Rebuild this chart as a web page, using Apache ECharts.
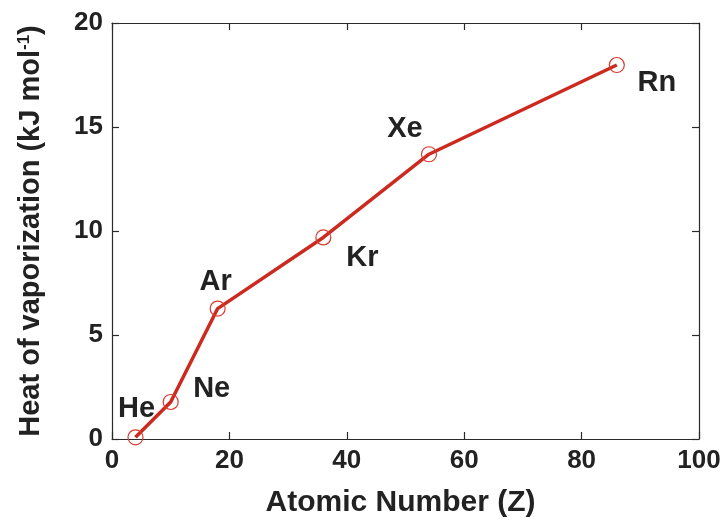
<!DOCTYPE html>
<html><head><meta charset="utf-8">
<script src="https://cdn.jsdelivr.net/npm/echarts@6/dist/echarts.min.js"></script>
<style>html,body{margin:0;padding:0;background:#fff}#c{width:725px;height:520px}</style>
</head><body><div id="c"></div>
<script>
const elements = ['He', 'Ne', 'Ar', 'Kr', 'Xe', 'Rn'];
const atomicNumber = [4, 10, 18, 36, 54, 86];
const heatVap = [0.08, 1.78, 6.27, 9.69, 13.69, 17.98];
const xTicks = [0, 20, 40, 60, 80, 100];
const yTicks = [0, 5, 10, 15, 20];
// label placement (pixel offsets from each point)
const labelOffsets = [[1, -28], [41, -13], [-2, -27], [39, 21], [-24, -25], [40, 18]];

const chart = echarts.init(document.getElementById('c'));
const axisCol = '#2a2a2a';
const font = 'Liberation Sans, Arial, Helvetica, sans-serif';
function ax(extra) {
  return Object.assign({
    axisLine: { show: true, onZero: false, lineStyle: { color: axisCol, width: 1.2 } },
    axisTick: { show: true, inside: true, length: 7, lineStyle: { color: axisCol, width: 1.2 } },
    splitLine: { show: false }
  }, extra);
}
chart.setOption({
  animation: false,
  backgroundColor: '#fff',
  grid: { left: 112, right: 26, top: 23, bottom: 81, outerBoundsMode: 'none' },
  xAxis: [
    ax({
      type: 'value', min: xTicks[0], max: xTicks[xTicks.length - 1], interval: 20,
      name: 'Atomic Number (Z)', nameLocation: 'middle', nameGap: 49,
      nameTextStyle: { fontFamily: font, fontWeight: 'bold', fontSize: 30, color: '#222', padding: [0, 10, 0, 0] },
      axisLabel: { fontFamily: font, fontWeight: 'bold', fontSize: 26, color: '#222', margin: 9 }
    }),
    ax({
      type: 'value', position: 'top', min: 0, max: 100, interval: 20,
      axisLabel: { show: false }
    })
  ],
  yAxis: [
    ax({
      type: 'value', min: yTicks[0], max: yTicks[yTicks.length - 1], interval: 5,
      name: '{a|Heat of vaporization (kJ mol}{s|-1}{a|)}', nameLocation: 'middle', nameGap: 67,
      nameTextStyle: {
        rich: {
          a: { fontFamily: font, fontWeight: 'bold', fontSize: 29, color: '#222' },
          s: { fontFamily: font, fontWeight: 'bold', fontSize: 17, color: '#222', verticalAlign: 'top', padding: [0, 0, 12, 0] }
        }
      },
      axisLabel: { fontFamily: font, fontWeight: 'bold', fontSize: 26, color: '#222', margin: 9 }
    }),
    ax({
      type: 'value', position: 'right', min: 0, max: 20, interval: 5,
      axisLabel: { show: false }
    })
  ],
  series: [{
    type: 'line',
    data: atomicNumber.map((z, i) => ({
      value: [z, heatVap[i]],
      label: { offset: labelOffsets[i] }
    })),
    symbol: 'circle',
    symbolSize: 15,
    showAllSymbol: true,
    lineStyle: { color: '#cc2a1e', width: 3.5 },
    itemStyle: { color: 'rgba(0,0,0,0)', borderColor: '#d93a30', borderWidth: 1.2 },
    label: {
      show: true, position: 'inside',
      formatter: p => elements[p.dataIndex],
      fontFamily: font, fontWeight: 'bold', fontSize: 29, color: '#222'
    },
    z: 3
  }]
});
</script></body></html>
